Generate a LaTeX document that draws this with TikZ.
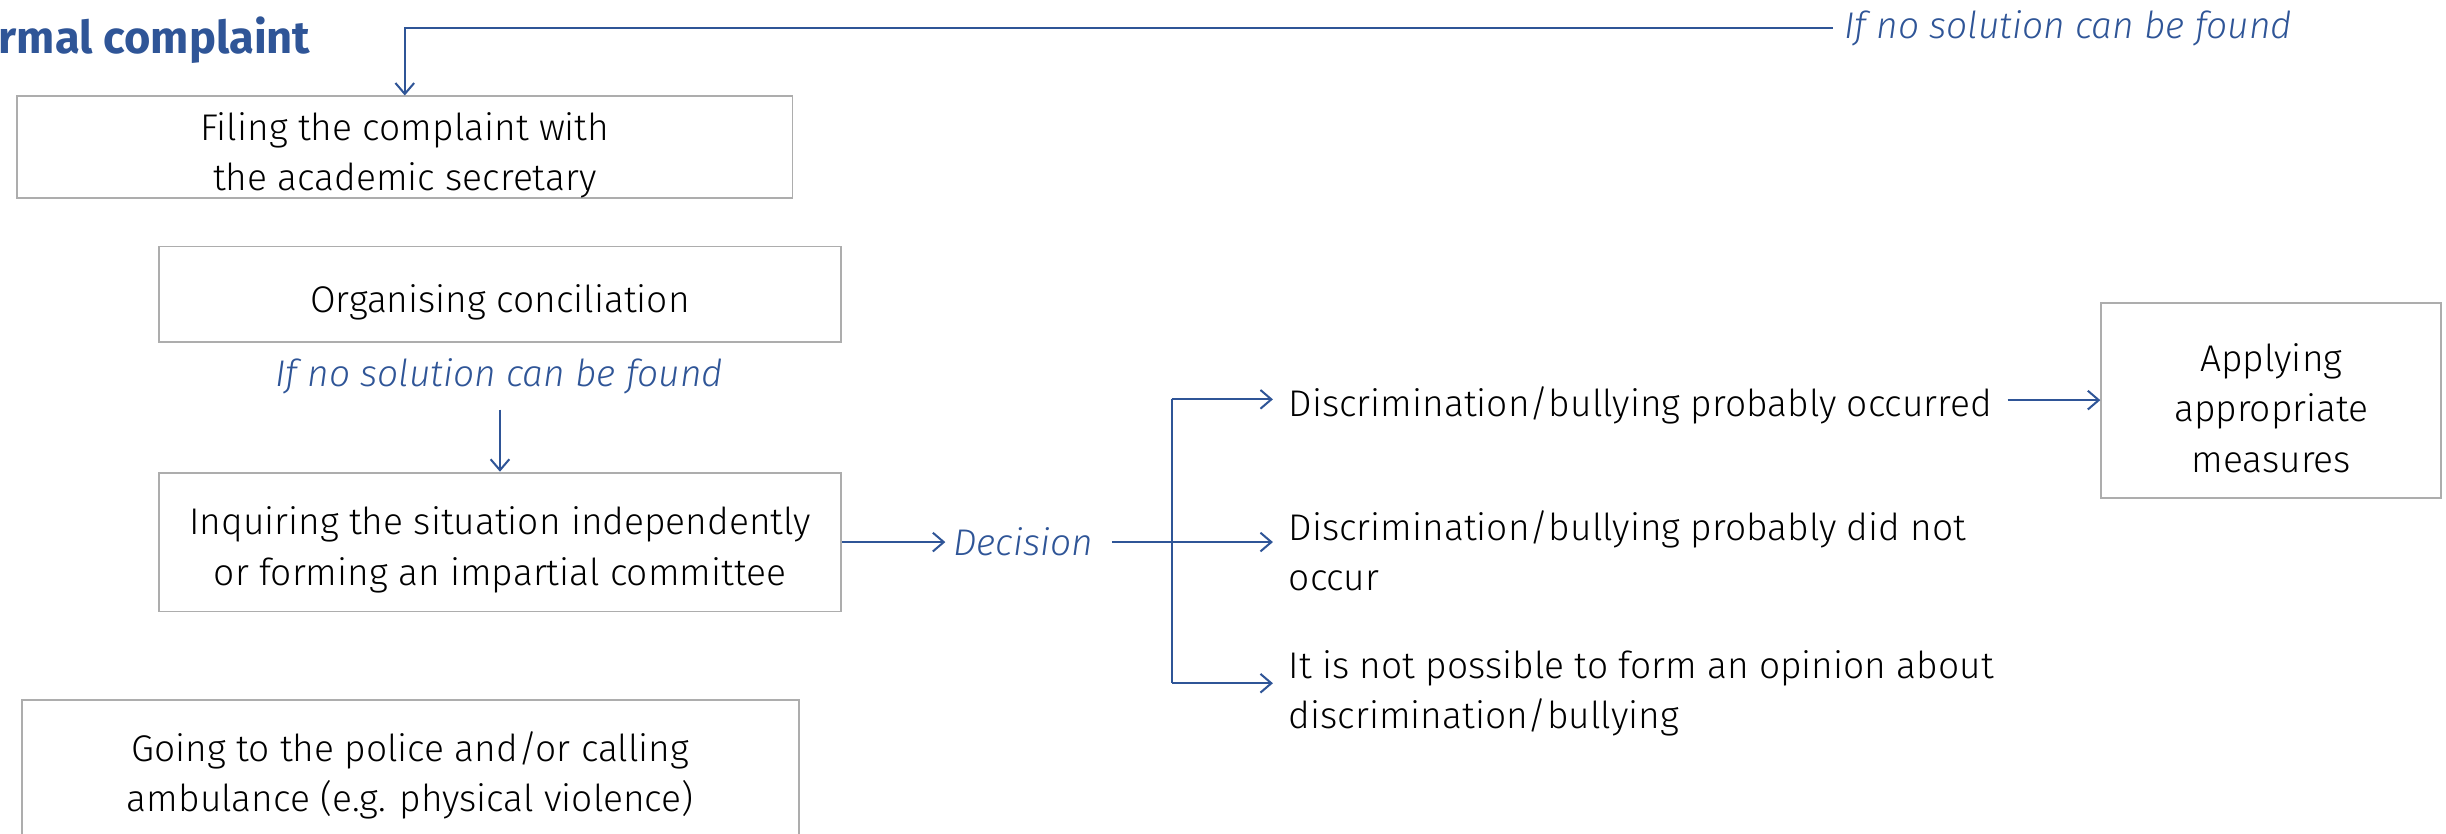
\documentclass[tikz,border=0pt]{standalone}
\usepackage{fontspec}
\setmainfont{Fira Sans Light}
\newfontfamily\titlefont{Fira Sans}
\usetikzlibrary{arrows.meta,calc}
\definecolor{myblue}{HTML}{2F5597}
\definecolor{boxgray}{HTML}{ADADAD}
\newcommand\bodyfont{\fontsize{23.8}{32.5}\selectfont}
\newcommand\boxtopstrut{\rule{0pt}{28pt}}
\begin{document}
\begin{tikzpicture}[x=1pt,y=-1pt,
  box/.style={draw=boxgray,line width=1.2pt,rectangle,align=center,inner sep=0pt,font=\bodyfont,text=black},
  opttext/.style={anchor=west,align=left,inner sep=0pt,font=\bodyfont,text=black},
  bluelabel/.style={inner sep=0pt,font=\bodyfont\itshape,text=myblue},
  arr/.style={draw=myblue,line width=1.3pt,-{Straight Barb[length=7pt,width=12pt,line width=1.3pt]}},
  plain/.style={draw=myblue,line width=1.3pt}
]
\useasboundingbox (0,0) rectangle (1568,534);

% title
\node[anchor=west,inner sep=0pt,font=\titlefont\bfseries\fontsize{29}{34}\selectfont,text=myblue] (title) at (-1,26) {rmal complaint};

% boxes
\node[box,minimum width=497pt,minimum height=65pt] (box1) at (259.5,94.5) {\boxtopstrut Filing the complaint with\\the academic secretary};
\node[box,minimum width=437pt,minimum height=61pt] (box2) at (320.5,188.5) {\boxtopstrut Organising conciliation};
\node[box,minimum width=437pt,minimum height=89pt] (box3) at (320.5,347.5) {\boxtopstrut Inquiring the situation independently\\or forming an impartial committee};
\node[box,minimum width=218pt,minimum height=125pt] (box4) at (1456,256.5) {\boxtopstrut Applying\\appropriate\\measures};
\node[box,minimum width=498pt,minimum height=96pt] (box5) at (263,497) {Going to the police and/or calling\\ambulance (e.g. physical violence)};

% labels
\node[bluelabel,anchor=west] (lbltop) at (1182,18) {If no solution can be found};
\node[bluelabel] (lbl2) at (320,241) {If no solution can be found};
\node[bluelabel,anchor=west] (dec) at (611,347.5) {Decision};

% options
\node[opttext] (opt1) at (826,260) {Discrimination/bullying probably occurred};
\node[opttext] (opt2) at (826,353) {Discrimination/bullying probably did not\\occur};
\node[opttext] (opt3) at (826,444.5) {It is not possible to form an opinion about\\discrimination/bullying};

% connectors
\draw[arr,shorten <=7pt] (lbltop.west) -| (box1.north);
\draw[arr,shorten <=10pt] (lbl2.south -| box3.north) -- (box3.north);
\draw[arr,shorten >=5pt] (box3.east) -- (dec.west);
\coordinate (b1) at (751,256);
\coordinate (b3) at (751,438);
\draw[plain] (b1) -- (b3);
\draw[arr,shorten >=10pt] (b1) -- (b1 -| opt1.west);
\draw[arr,shorten >=10pt] (b3) -- (b3 -| opt3.west);
\draw[arr,shorten <=12pt,shorten >=10pt] (dec.east) -- (dec.east -| opt2.west);
\draw[arr,shorten <=10pt] (opt1.east |- box4.west) -- (box4.west);
\end{tikzpicture}
\end{document}
